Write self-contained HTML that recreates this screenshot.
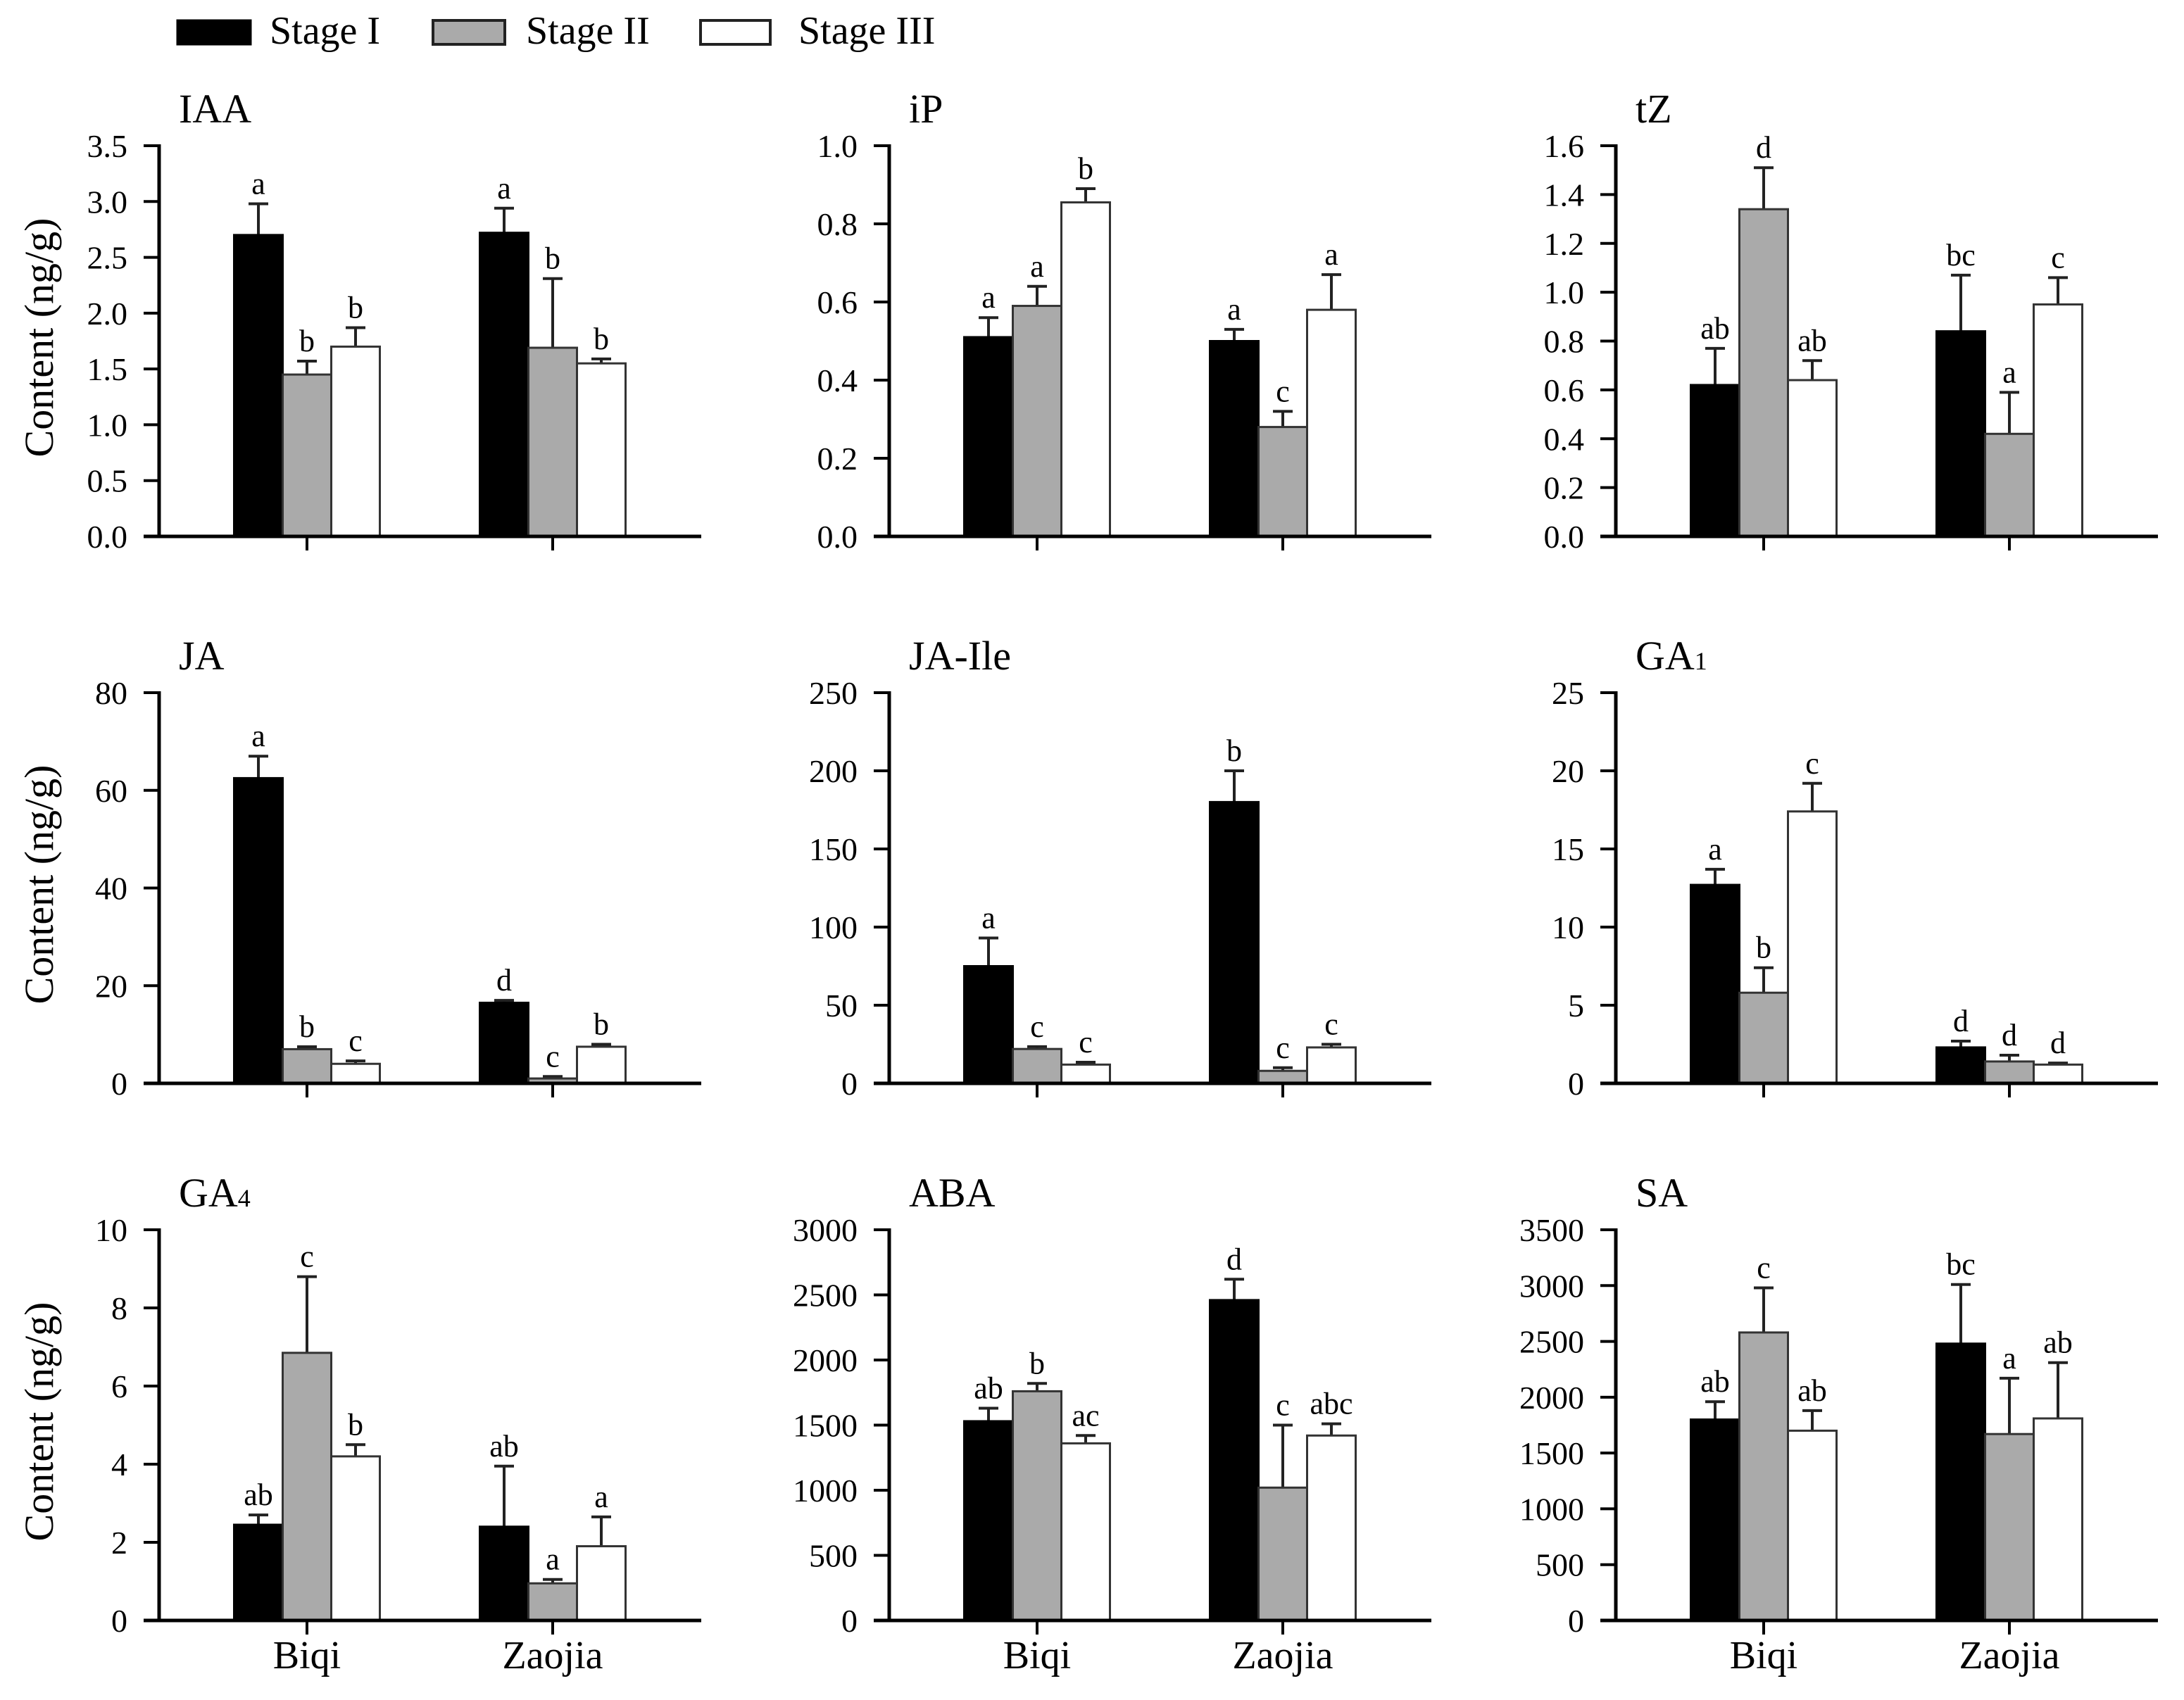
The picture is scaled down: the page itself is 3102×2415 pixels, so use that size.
<!DOCTYPE html>
<html><head><meta charset="utf-8">
<style>
html,body{margin:0;padding:0;background:#fff;}
svg{display:block;font-family:"Liberation Serif","DejaVu Serif",serif;}
</style></head>
<body>
<svg id="fig" width="3102" height="2415" viewBox="0 0 3102 2415" xmlns="http://www.w3.org/2000/svg">
  <g>
    <g>
      <rect x="252" y="29" width="104" height="34" fill="#000" stroke="#000" stroke-width="3"/>
      <text x="383" y="62" font-size="56">Stage I</text>
    </g>
    <g>
      <rect x="615" y="29" width="102" height="34" fill="#aaa" stroke="#222" stroke-width="4"/>
      <text x="747" y="62" font-size="56">Stage II</text>
    </g>
    <g>
      <rect x="995" y="29" width="99" height="34" fill="#fff" stroke="#222" stroke-width="4"/>
      <text x="1134" y="62" font-size="56">Stage III</text>
    </g>
  </g>
</svg>
<script>
// ---- data ----
const categories = ["Biqi", "Zaojia"];
const stages = ["Stage I", "Stage II", "Stage III"];
const panelTitles = ["IAA", "iP", "tZ", "JA", "JA-Ile", "GA1", "GA4", "ABA", "SA"];
const yMax = [3.5, 1.0, 1.6, 80, 250, 25, 10, 3000, 3500];
const yStep = [0.5, 0.2, 0.2, 20, 50, 5, 2, 500, 500];
const yDecimals = [1, 1, 1, 0, 0, 0, 0, 0, 0];
// values [panel][category][stage]
const means = [
  [[2.70, 1.45, 1.70], [2.72, 1.69, 1.55]],
  [[0.51, 0.59, 0.855], [0.50, 0.28, 0.58]],
  [[0.62, 1.34, 0.64], [0.84, 0.42, 0.95]],
  [[62.5, 7.0, 4.0], [16.5, 1.0, 7.5]],
  [[75, 22, 12], [180, 8, 23]],
  [[12.7, 5.8, 17.4], [2.3, 1.4, 1.2]],
  [[2.45, 6.85, 4.2], [2.4, 0.95, 1.9]],
  [[1530, 1760, 1360], [2460, 1020, 1420]],
  [[1800, 2580, 1700], [2480, 1670, 1810]]
];
const errorTops = [
  [[2.98, 1.57, 1.87], [2.94, 2.31, 1.59]],
  [[0.56, 0.64, 0.89], [0.53, 0.32, 0.67]],
  [[0.77, 1.51, 0.72], [1.07, 0.59, 1.06]],
  [[67, 7.5, 4.6], [17.0, 1.4, 8.0]],
  [[93, 23.5, 13.5], [200, 10, 25]],
  [[13.7, 7.4, 19.2], [2.7, 1.8, 1.3]],
  [[2.7, 8.8, 4.5], [3.95, 1.05, 2.65]],
  [[1630, 1820, 1420], [2620, 1500, 1510]],
  [[1960, 2980, 1880], [3010, 2170, 2310]]
];
const sigLetters = [
  [["a","b","b"],["a","b","b"]],
  [["a","a","b"],["a","c","a"]],
  [["ab","d","ab"],["bc","a","c"]],
  [["a","b","c"],["d","c","b"]],
  [["a","c","c"],["b","c","c"]],
  [["a","b","c"],["d","d","d"]],
  [["ab","c","b"],["ab","a","a"]],
  [["ab","b","ac"],["d","c","abc"]],
  [["ab","c","ab"],["bc","a","ab"]]
];

// ---- layout ----
const NS = "http://www.w3.org/2000/svg";
const svg = document.getElementById("fig");
const colX = [226, 1263, 2295];
const rowTop = [207, 984, 1747];
const plotH = 555;
const axisLen = 770;
const catOffset = [210, 559];
const barW = 69;
const fills = ["#000", "#aaa", "#fff"];
const strokes = ["#000", "#333", "#333"];

function mk(tag, attrs, parent) {
  const e = document.createElementNS(NS, tag);
  for (const k in attrs) e.setAttribute(k, attrs[k]);
  parent.appendChild(e);
  return e;
}

panelTitles.forEach((title, p) => {
  const r = Math.floor(p / 3), c = p % 3;
  const ax = colX[c], top = rowTop[r], base = top + plotH;
  const yScale = v => base - (v / yMax[p]) * plotH;
  const xScale = (ci, si) => ax + catOffset[ci] + (si - 1) * barW;
  const slug = title.toLowerCase();

  const g = mk("g", {}, svg);
  
  

  // title
  const t = mk("text", {x: ax + 28, y: top - 33, "font-size": 58}, g);
  
  
  const m = title.match(/^(GA)(\d)$/);
  if (m) {
    t.textContent = m[1];
    const s = mk("tspan", {"font-size": 36}, t);
    s.textContent = m[2];
  } else t.textContent = title;

  // y-axis title
  if (c === 0) {
    const yt = mk("text", {x: 0, y: 0, "font-size": 58, "text-anchor": "middle",
      transform: `translate(75 ${top + plotH / 2 - 5}) rotate(-90)`}, g);
    
    
    yt.textContent = "Content (ng/g)";
  }

  // bars
  categories.forEach((cat, ci) => {
    stages.forEach((st, si) => {
      const v = means[p][ci][si];
      const x = xScale(ci, si) - barW / 2;
      const y = yScale(v);
      const cx = x + barW / 2;
      const eTop = yScale(errorTops[p][ci][si]);
      const el = mk("line", {x1: cx, y1: y, x2: cx, y2: eTop, stroke: "#222", "stroke-width": 4}, g);
      
      
      const cap = mk("line", {x1: cx - 14, y1: eTop, x2: cx + 14, y2: eTop, stroke: "#222", "stroke-width": 4}, g);
      
      
      const b = mk("rect", {x: x, y: y, width: barW, height: base - y, fill: fills[si], stroke: strokes[si], "stroke-width": 3}, g);
      
      
      const lt = mk("text", {x: cx, y: eTop - 14, "font-size": 44, "text-anchor": "middle"}, g);
      
      
      lt.textContent = sigLetters[p][ci][si];
    });
    // category tick
    const tx = ax + catOffset[ci];
    const tk = mk("line", {x1: tx, y1: base, x2: tx, y2: base + 20, stroke: "#000", "stroke-width": 4}, g);
    
    
    if (r === 2) {
      const cl = mk("text", {x: tx, y: base + 68, "font-size": 56, "text-anchor": "middle"}, g);
      
      
      cl.textContent = cat;
    }
  });

  // axes
  const ya = mk("line", {x1: ax, y1: top - 2, x2: ax, y2: base + 2, stroke: "#000", "stroke-width": 5}, g);
  
  
  const xa = mk("line", {x1: ax - 22, y1: base, x2: ax + axisLen, y2: base, stroke: "#000", "stroke-width": 5}, g);
  
  

  // y ticks
  const n = Math.round(yMax[p] / yStep[p]);
  for (let i = 0; i <= n; i++) {
    const v = i * yStep[p];
    const y = yScale(v);
    const tl = mk("line", {x1: ax - 22, y1: y, x2: ax, y2: y, stroke: "#000", "stroke-width": 4}, g);
    
    
    const lbl = mk("text", {x: ax - 45, y: y + 16, "font-size": 46, "text-anchor": "end"}, g);
    
    
    lbl.textContent = v.toFixed(yDecimals[p]);
  }
});
</script>
</body></html>
